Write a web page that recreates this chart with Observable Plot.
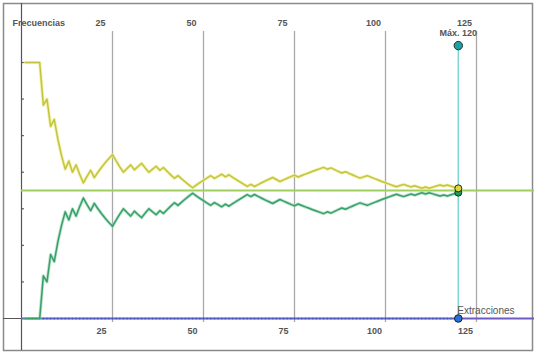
<!DOCTYPE html>
<html>
<head>
<meta charset="utf-8">
<script src="https://cdn.jsdelivr.net/npm/d3@7"></script>
<script src="https://cdn.jsdelivr.net/npm/@observablehq/plot@0.6"></script>
<style>
  html, body { margin: 0; padding: 0; background: #fff; }
  #chart svg { display: block; }
</style>
</head>
<body>
<div id="chart"></div>
<script>
// Número de extracciones (1..120)
const extracciones = d3.range(1, 121);
// Recuentos acumulados
const caras = [1,2,3,4,5,5,6,6,7,7,7,7,8,8,9,9,9,10,11,11,
  12,13,14,15,16,16,16,16,17,18,18,19,20,20,20,21,22,22,23,23,
  23,23,24,24,24,24,24,25,26,27,28,29,29,30,31,31,32,32,32,32,
  32,32,33,33,34,35,36,37,38,38,38,39,40,41,42,42,43,44,45,46,
  47,48,49,49,50,50,50,50,51,51,51,51,51,52,53,53,53,53,53,53,
  53,53,53,54,55,55,55,56,56,56,57,57,58,59,60,60,61,61,61,61];
const cruces = [0,0,0,0,0,1,1,2,2,3,4,5,5,6,6,7,8,8,8,9,
  9,9,9,9,9,10,11,12,12,12,13,13,13,14,15,15,15,16,16,17,
  18,19,19,20,21,22,23,23,23,23,23,23,24,24,24,25,25,26,27,28,
  29,30,30,31,31,31,31,31,31,32,33,33,33,33,33,34,34,34,34,34,
  34,34,34,35,35,36,37,38,38,39,40,41,42,42,42,43,44,45,46,47,
  48,49,50,50,50,51,52,52,53,54,54,55,55,55,55,56,56,57,58,59];
const xTicks = [25, 50, 75, 100, 125];
const yTicks = [1/7, 2/7, 3/7, 4/7, 5/7, 6/7, 1];
const probabilidad = 0.5;
const maxExtracciones = 120;
const maxMarcador = 1.066;

const datos = extracciones.map((n, i) => ({n, caras: caras[i] / n, cruces: cruces[i] / n}));
const ultimo = datos[datos.length - 1];

const W = 534, H = 352;
const font = "'Liberation Sans', Arial, sans-serif";

const chart = Plot.plot({
  width: W, height: H,
  marginLeft: 21, marginRight: 0, marginTop: 0, marginBottom: 0,
  x: {domain: [0, (W - 21) / 3.64], axis: null},
  y: {domain: [-(H - 318) / 256, 318 / 256], axis: null},
  style: {fontFamily: font, background: "#fff"},
  marks: [
    // marco
    Plot.frame({stroke: "#8a8a8a", strokeWidth: 1.5, insetLeft: -18, insetTop: 3, insetRight: 2, insetBottom: 2}),
    // rejilla vertical
    Plot.ruleX(xTicks, {y1: -4 / 256, y2: (318 - 31) / 256, stroke: "#a8a8a8", strokeWidth: 1.3}),
    // ejes
    Plot.ruleX([0], {y1: -(350 - 318) / 256, y2: (318 - 3) / 256, stroke: "#555", strokeWidth: 1.2}),
    Plot.ruleY([0], {x1: -18 / 3.64, x2: (W - 21) / 3.64, stroke: "#555", strokeWidth: 1.2}),
    Plot.ruleY(yTicks, {x1: 0, x2: 0.8, stroke: "#555", strokeWidth: 1.2}),
    // línea de probabilidad teórica
    Plot.ruleY([probabilidad], {x1: 0, x2: (W - 21) / 3.64, stroke: "#9fcf5f", strokeWidth: 2.2}),
    // línea de extracciones
    Plot.ruleY([0], {x1: 0, x2: (W - 21) / 3.64, stroke: "#6c5cc4", strokeWidth: 2}),
    Plot.dot(datos, {x: "n", y: 0, r: 0.9, fill: "#3a62c8", stroke: "none"}),
    // vertical de máximo
    Plot.ruleX([maxExtracciones], {y1: 0, y2: maxMarcador, stroke: "#7fd6d2", strokeWidth: 1.5}),
    // series
    Plot.line(datos, {x: "n", y: "caras", stroke: "#eeee90", strokeWidth: 3.2, strokeOpacity: 0.8}),
    Plot.line(datos, {x: "n", y: "caras", stroke: "#c4c443", strokeWidth: 1.5}),
    Plot.line(datos, {x: "n", y: "cruces", stroke: "#8fd0a8", strokeWidth: 3.2, strokeOpacity: 0.6}),
    Plot.line(datos, {x: "n", y: "cruces", stroke: "#37a06a", strokeWidth: 1.5}),
    // marcadores finales
    Plot.dot([ultimo], {x: "n", y: "cruces", r: 3.5, fill: "#1f9a5f", stroke: "#1d2a22", strokeWidth: 1}),
    Plot.dot([ultimo], {x: "n", y: "caras", r: 3.5, fill: "#dada3c", stroke: "#2a2a10", strokeWidth: 1}),
    Plot.dot([maxExtracciones], {x: d => d, y: maxMarcador, r: 4.2, fill: "#1aa3a3", stroke: "#1c2c2c", strokeWidth: 1}),
    Plot.dot([maxExtracciones], {x: d => d, y: 0, r: 3.8, fill: "#2a6fd6", stroke: "#1a1a30", strokeWidth: 1}),
    // textos
    Plot.text(xTicks, {x: d => d, y: (318 - 23) / 256, dx: -12, text: d => String(d), fill: "#555", fontWeight: "bold", fontSize: 9}),
    Plot.text(xTicks, {x: d => d, y: -(331 - 318) / 256, dx: -11, text: d => String(d), fill: "#555", fontWeight: "bold", fontSize: 9}),
    Plot.text(["Frecuencias"], {x: 0, y: (318 - 23) / 256, dx: -9, textAnchor: "start", text: d => d, fill: "#555", fontWeight: "bold", fontSize: 9}),
    Plot.text([maxExtracciones], {x: d => d, y: maxMarcador, dy: -12, text: d => "Máx. " + d, fill: "#555", fontWeight: "bold", fontSize: 9}),
    Plot.text(["Extracciones"], {x: maxExtracciones, y: 0, dx: -1, dy: -8, textAnchor: "start", text: d => d, fill: "#555", fontSize: 10})
  ]
});
document.getElementById("chart").append(chart);
</script>
</body>
</html>
